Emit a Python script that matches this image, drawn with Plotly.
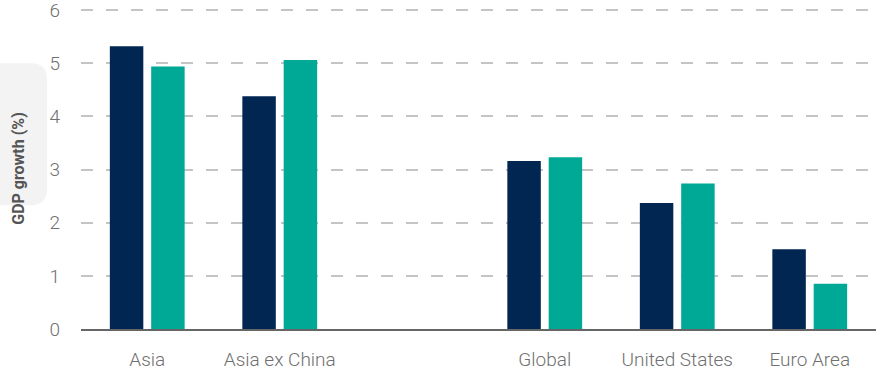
import plotly.graph_objects as go

categories = ["Asia", "Asia ex China", " ", "Global", "United States", "Euro Area"]
series_a = [5.32, 4.38, None, 3.16, 2.37, 1.50]
series_b = [4.94, 5.06, None, 3.23, 2.74, 0.85]
y_ticks = [0, 1, 2, 3, 4, 5, 6]

navy = "#012652"
teal = "#00a996"

fig = go.Figure()
fig.add_trace(go.Bar(x=categories, y=series_a, marker=dict(color=navy, line=dict(width=0)), showlegend=False))
fig.add_trace(go.Bar(x=categories, y=series_b, marker=dict(color=teal, line=dict(width=0)), showlegend=False))

# decorative light grey rounded panel behind the y-axis title
x0, x1 = -0.13, -0.0428
yb, yt = 2.33, 5.0
rx, ry = 0.0201, 0.30
path = (f"M {x0},{yb} L {x1-rx},{yb} Q {x1},{yb} {x1},{yb+ry} "
        f"L {x1},{yt-ry} Q {x1},{yt} {x1-rx},{yt} L {x0},{yt} Z")
fig.add_shape(type="path", path=path, xref="paper", yref="y",
              fillcolor="#f3f3f3", line=dict(width=0), layer="below")

fig.update_layout(
    width=888, height=371,
    margin=dict(l=81, r=12, t=8, b=42),
    plot_bgcolor="white", paper_bgcolor="white",
    barmode="group", bargap=0.376, bargroupgap=0.19,
    font=dict(family="Roboto", color="#707070"),
)
fig.update_xaxes(
    automargin=False,
    showline=True, linecolor="#666666", linewidth=1.5,
    showgrid=False, ticks="", tickfont=dict(size=19, color="#707070", weight=300),
    ticklabelstandoff=12, ticklabeloverflow="allow",
)
fig.update_yaxes(
    automargin=False,
    range=[0, 6.04], tickvals=y_ticks, showline=False,
    showgrid=True, gridcolor="#c4c4c4", gridwidth=1.5, griddash="12px,13px",
    zeroline=False, ticks="", tickfont=dict(size=19, color="#707070", weight=300),
    ticklabelstandoff=20, ticklabeloverflow="allow",
    title=dict(text="<b>GDP growth (%)</b>", font=dict(size=16, color="#555555"), standoff=20),
)

fig.write_html("out.html", config={"displayModeBar": False},
               post_script="document.body.style.margin='0px';")
